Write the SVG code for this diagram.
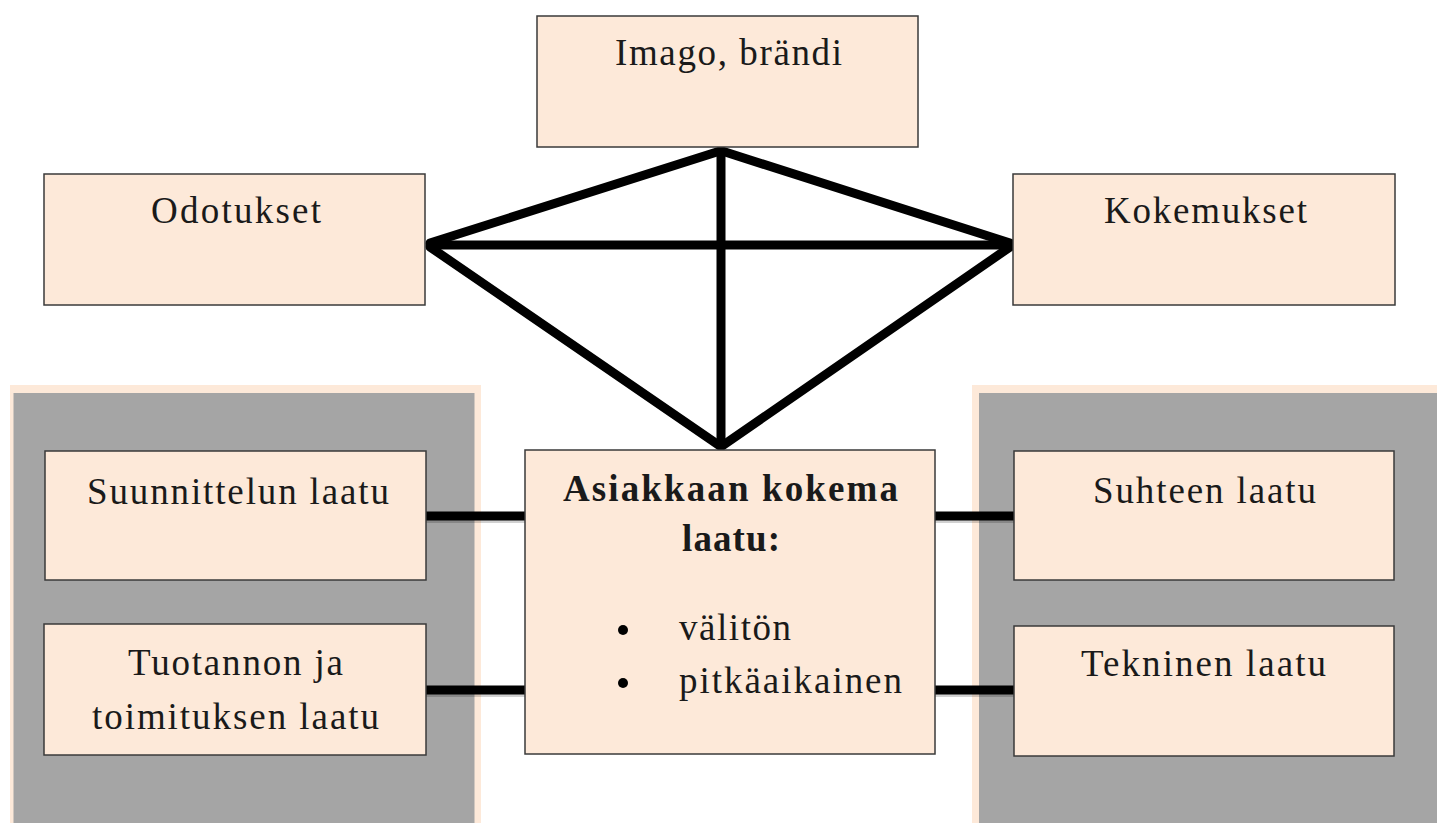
<svg xmlns="http://www.w3.org/2000/svg" width="1437" height="823" viewBox="0 0 1437 823">
<style>
.box{fill:#FDE9D9;stroke:#3a3a3a;stroke-width:1.5}
.panelb{fill:#FDE9D9}
.panel{fill:#A5A5A5}
.t{font-family:"Liberation Serif","Times New Roman",serif;font-size:37px;fill:#1a1a1a;text-anchor:start}
.b{font-weight:bold}
.ln{stroke:#000;stroke-width:9;stroke-linecap:round;fill:none}
.sh{stroke:#000;stroke-opacity:0.18;stroke-width:8;fill:none}
</style>
<rect width="1437" height="823" fill="#fff"/>
<g id="panel-left">
<rect class="panelb" x="10" y="385" width="471" height="438"/>
<rect class="panel" x="13.5" y="393" width="461" height="430"/>
</g>
<g id="panel-right">
<rect class="panelb" x="972" y="385" width="465" height="438"/>
<rect class="panel" x="979" y="393" width="458" height="430"/>
</g>
<g id="connectors">
<line class="sh" x1="426" y1="519" x2="525" y2="519"/>
<line class="sh" x1="426" y1="693" x2="525" y2="693"/>
<line class="sh" x1="935" y1="519" x2="1014" y2="519"/>
<line class="sh" x1="935" y1="693" x2="1014" y2="693"/>
<line class="ln" x1="426" y1="516" x2="525" y2="516" style="stroke-linecap:butt"/>
<line class="ln" x1="426" y1="690" x2="525" y2="690" style="stroke-linecap:butt"/>
<line class="ln" x1="935" y1="516" x2="1014" y2="516" style="stroke-linecap:butt"/>
<line class="ln" x1="935" y1="690" x2="1014" y2="690" style="stroke-linecap:butt"/>
<line class="ln" x1="720" y1="151" x2="430" y2="243"/>
<line class="ln" x1="722" y1="151" x2="1010" y2="243"/>
<line class="ln" x1="721" y1="151" x2="721" y2="446"/>
<line class="ln" x1="430" y1="245" x2="1010" y2="245"/>
<line class="ln" x1="430" y1="247" x2="720" y2="446"/>
<line class="ln" x1="1010" y1="247" x2="722" y2="446"/>
</g>
<g id="imago">
<rect class="box" x="537" y="16" width="381" height="131"/>
<text class="t" x="615" y="65" textLength="227">Imago, brändi</text>
</g>
<g id="odotukset">
<rect class="box" x="44" y="174" width="381" height="131"/>
<text class="t" x="151" y="223" textLength="170">Odotukset</text>
</g>
<g id="kokemukset">
<rect class="box" x="1013" y="174" width="382" height="131"/>
<text class="t" x="1104" y="223" textLength="203">Kokemukset</text>
</g>
<g id="suunnittelun">
<rect class="box" x="45" y="451" width="381" height="129"/>
<text class="t" x="87" y="504" textLength="302">Suunnittelun laatu</text>
</g>
<g id="tuotannon">
<rect class="box" x="44" y="624" width="382" height="131"/>
<text class="t" x="128" y="675" textLength="215">Tuotannon ja</text>
<text class="t" x="92" y="729" textLength="287">toimituksen laatu</text>
</g>
<g id="asiakkaan">
<rect class="box" x="525" y="450" width="410" height="304"/>
<text class="t b" x="563" y="501" textLength="335">Asiakkaan kokema</text>
<text class="t b" x="682" y="551" textLength="98">laatu:</text>
<circle cx="623" cy="630" r="5" fill="#000"/>
<circle cx="623" cy="683" r="5" fill="#000"/>
<text class="t" x="679" y="640" textLength="112">välitön</text>
<text class="t" x="679" y="693" textLength="223">pitkäaikainen</text>
</g>
<g id="suhteen">
<rect class="box" x="1014" y="451" width="380" height="129"/>
<text class="t" x="1093" y="503" textLength="223">Suhteen laatu</text>
</g>
<g id="tekninen">
<rect class="box" x="1014" y="626" width="380" height="130"/>
<text class="t" x="1081" y="676" textLength="245">Tekninen laatu</text>
</g>
</svg>
